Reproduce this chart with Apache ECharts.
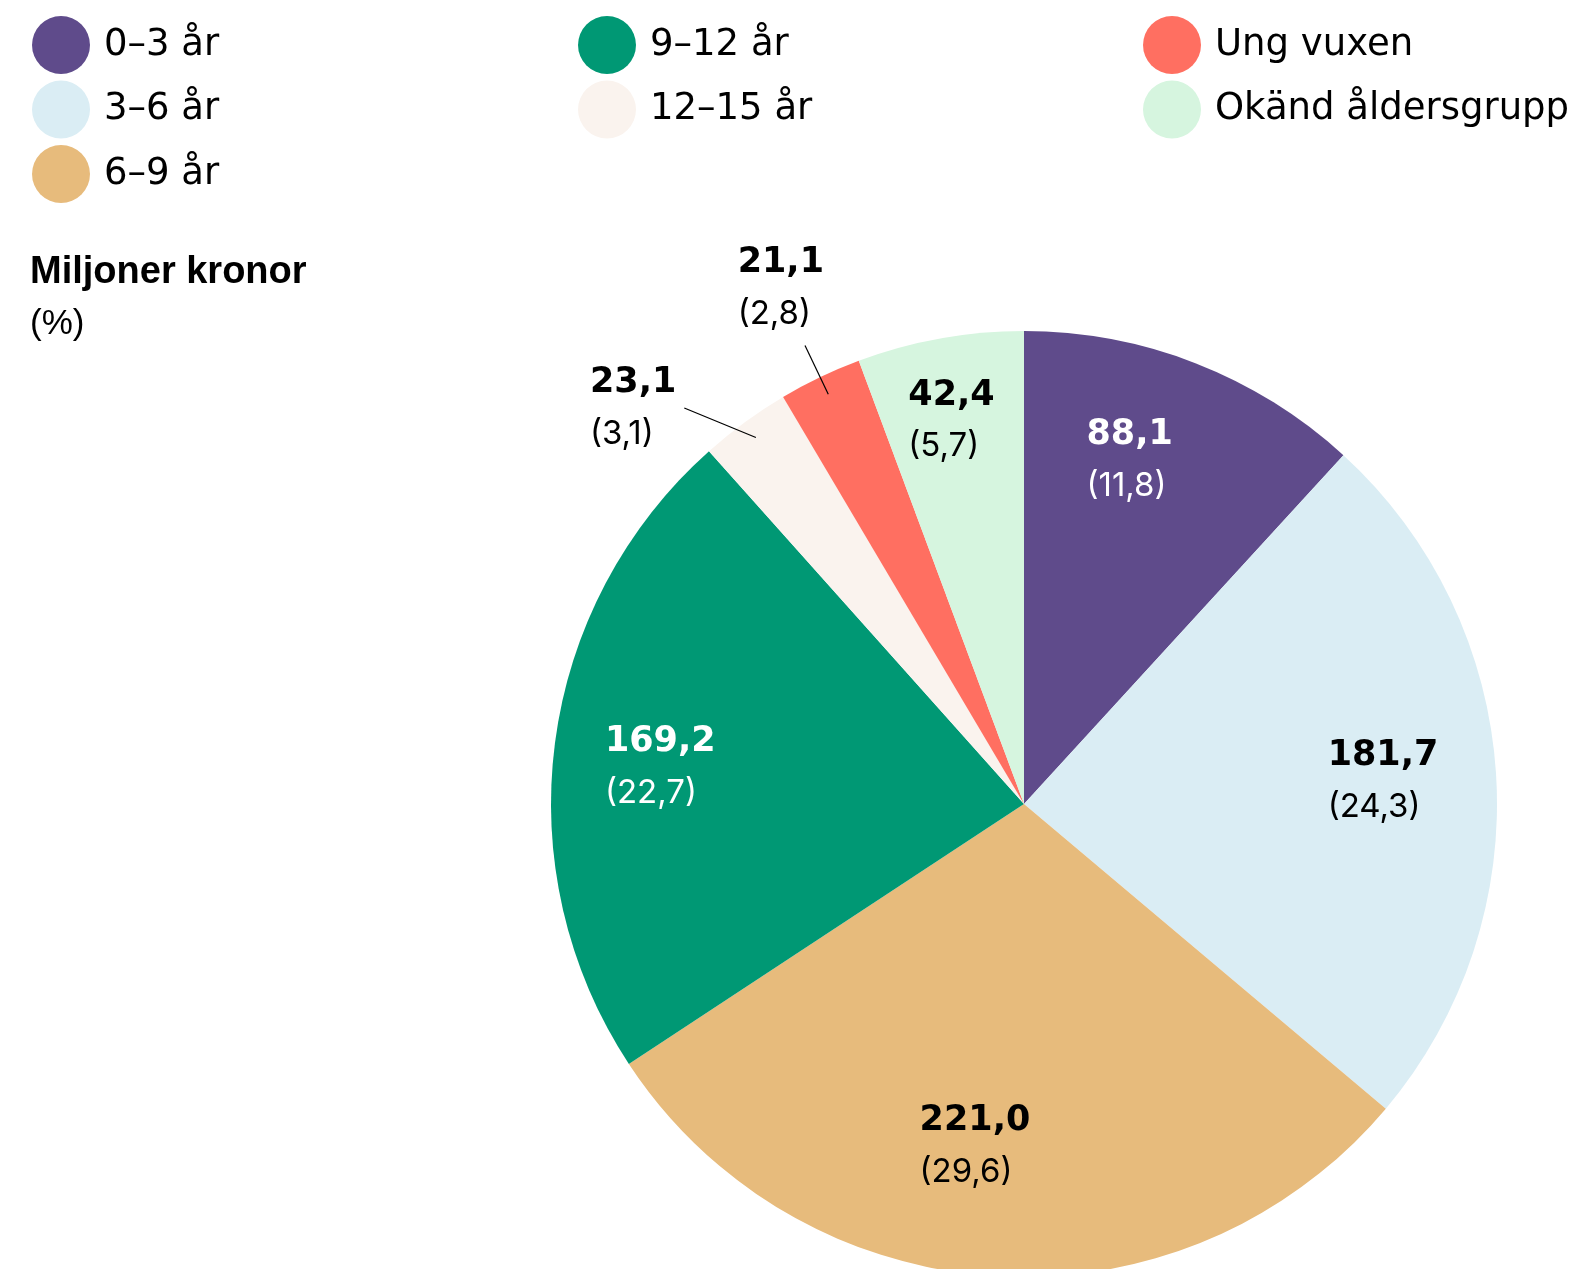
<!DOCTYPE html>
<html>
<head>
<meta charset="utf-8">
<script src="https://cdn.jsdelivr.net/npm/echarts@6/dist/echarts.min.js"></script>
<style>
html,body{margin:0;padding:0;background:#fff;}
#chart{width:1588px;height:1269px;}
</style>
</head>
<body>
<div id="chart"></div>
<script>
const categories = ['0–3 år', '3–6 år', '6–9 år', '9–12 år', '12–15 år', 'Ung vuxen', 'Okänd åldersgrupp'];
const values = [88.1, 181.7, 221.0, 169.2, 23.1, 21.1, 42.4];
const percents = [11.8, 24.3, 29.6, 22.7, 3.1, 2.8, 5.7];
const titleText = 'Miljoner kronor';
const subtitleText = '(%)';

const colors = ['#5F4B8B', '#DAEDF4', '#E7BB7C', '#009874', '#FAF3EE', '#FF6F61', '#D6F5DF'];
const whiteLabel = [true, false, false, true, false, false, false];
const outsideLabel = [false, false, false, false, true, true, false];
const insideNudge = {0: [-24, -10], 1: [2, 1], 2: [-28, -15], 3: [-9, 10], 6: [-9, -31]};
const outsideCfg = {4: {len: 62, off: [-38, 21]}, 5: {len: 54, off: [24, -57]}};

const fmt = v => v.toFixed(1).replace('.', ',');
const CX = 1024, CY = 804, R = 473;
const FONT = '"DejaVu Sans", sans-serif';
const PFONT = 'Inter, "DejaVu Sans", sans-serif';

const richStyles = {
  v: {fontFamily: FONT, fontWeight: 'bold', fontSize: 35, lineHeight: 51, color: '#000', align: 'left'},
  p: {fontFamily: PFONT, fontSize: 33, lineHeight: 51, color: '#000', align: 'left'},
  vw: {fontFamily: FONT, fontWeight: 'bold', fontSize: 35, lineHeight: 51, color: '#fff', align: 'left'},
  pw: {fontFamily: PFONT, fontSize: 33, lineHeight: 51, color: '#fff', align: 'left'}
};
const labelFormatter = p => {
  const i = p.dataIndex;
  const w = whiteLabel[i];
  return '{' + (w ? 'vw' : 'v') + '|' + fmt(values[i]) + '}\n{' + (w ? 'pw' : 'p') + '|(' + fmt(percents[i]) + ')}';
};

const mainData = categories.map((c, i) => ({name: c, value: values[i], itemStyle: {color: colors[i]}}));
const insideData = categories.map((c, i) => ({
  name: c, value: values[i],
  itemStyle: {color: 'rgba(0,0,0,0)'},
  label: {show: !outsideLabel[i], offset: insideNudge[i] || [0, 0]}
}));
const outsideData = categories.map((c, i) => {
  const cfg = outsideCfg[i];
  return {
    name: c, value: values[i],
    itemStyle: {color: 'rgba(0,0,0,0)'},
    label: {show: !!cfg, offset: cfg ? cfg.off : [0, 0]},
    labelLine: {show: !!cfg, length: cfg ? cfg.len : 10, length2: 0}
  };
});

function legendFor(idx, left) {
  return {
    orient: 'vertical', left: left, top: 16, padding: 0,
    itemWidth: 58, itemHeight: 58, itemGap: 6.5,
    icon: 'circle', selectedMode: false,
    textStyle: {fontFamily: FONT, fontSize: 37, color: '#000', padding: [0, 0, 0, 9]},
    data: idx.map(i => ({name: categories[i], itemStyle: {color: colors[i]}}))
  };
}

const chart = echarts.init(document.getElementById('chart'), null, {renderer: 'canvas'});
chart.setOption({
  animation: false,
  title: {
    text: titleText, subtext: subtitleText,
    left: 30, top: 254, itemGap: 15, padding: 0,
    textStyle: {fontFamily: '"Liberation Sans", Arial, sans-serif', fontWeight: 'bold', fontSize: 38, color: '#000'},
    subtextStyle: {fontFamily: '"Liberation Sans", Arial, sans-serif', fontSize: 35, color: '#000'}
  },
  legend: [legendFor([0, 1, 2], 32), legendFor([3, 4], 578), legendFor([5, 6], 1143)],
  series: [
    {
      type: 'pie', center: [CX, CY], radius: [0, R], startAngle: 90, clockwise: true,
      silent: true, label: {show: false}, labelLine: {show: false},
      itemStyle: {borderWidth: 0},
      emphasis: {disabled: true},
      data: mainData
    },
    {
      type: 'pie', z: 3, center: [CX, CY], radius: [R / 2, R], startAngle: 90, clockwise: true,
      silent: true, avoidLabelOverlap: false,
      emphasis: {disabled: true},
      label: {position: 'inside', formatter: labelFormatter, rich: richStyles},
      labelLine: {show: false},
      data: insideData
    },
    {
      type: 'pie', z: 3, center: [CX, CY], radius: [0, R * 0.96], startAngle: 90, clockwise: true,
      silent: true, avoidLabelOverlap: false,
      emphasis: {disabled: true},
      label: {position: 'outside', formatter: labelFormatter, rich: richStyles, distanceToLabelLine: 5},
      labelLine: {lineStyle: {color: '#000', width: 1.2}},
      labelLayout: function (params) {
        if (params.dataIndex !== 4 || !params.labelLinePoints) return {};
        const r = params.labelRect;
        const start = params.labelLinePoints[0];
        const end = [r.x + r.width + 8, r.y + r.height / 2];
        return {labelLinePoints: [start, [(start[0] + end[0]) / 2, (start[1] + end[1]) / 2], end]};
      },
      data: outsideData
    }
  ]
});
</script>
</body>
</html>
